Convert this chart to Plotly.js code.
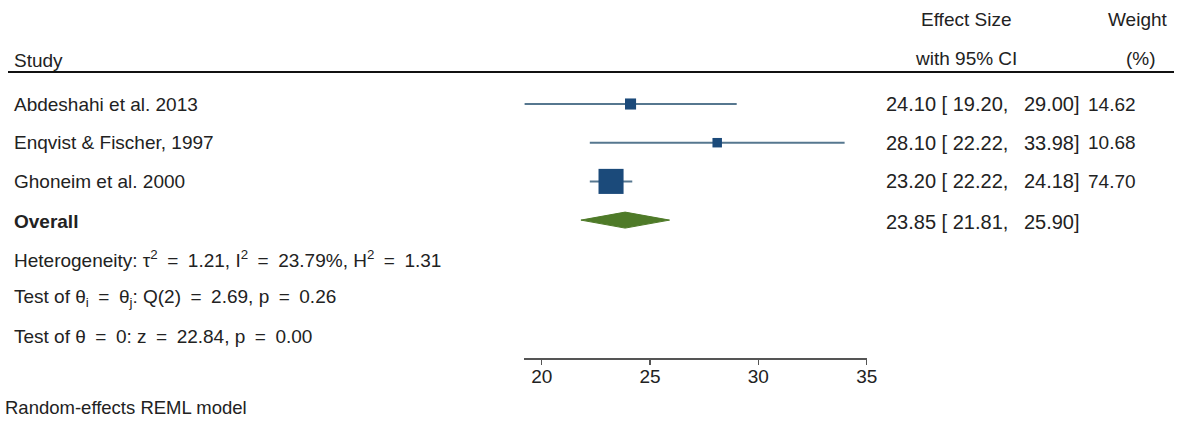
<!DOCTYPE html>
<html>
<head>
<meta charset="utf-8">
<script src="https://cdn.plot.ly/plotly-3.0.1.min.js"></script>
<style>html,body{margin:0;padding:0;background:#fff;}#chart{width:1186px;height:430px;}</style>
</head>
<body>
<div id="chart"></div>
<script>
// ---- data ----
const studies = ["Abdeshahi et al. 2013", "Enqvist & Fischer, 1997", "Ghoneim et al. 2000"];
const effect = [24.10, 28.10, 23.20];
const ciLow = [19.20, 22.22, 22.22];
const ciHigh = [29.00, 33.98, 24.18];
const weight = [14.62, 10.68, 74.70];
const overallLabel = "Overall";
const overallEffect = 23.85;
const overallLow = 21.81;
const overallHigh = 25.90;
const statLines = [
  "Heterogeneity: \u03c4<sup>2</sup> = 1.21, I<sup>2</sup> = 23.79%, H<sup>2</sup> = 1.31",
  "Test of \u03b8<sub>i</sub> = \u03b8<sub>j</sub>: Q(2) = 2.69, p = 0.26",
  "Test of \u03b8 = 0: z = 22.84, p = 0.00"
];
const tickVals = [20, 25, 30, 35];
const modelNote = "Random-effects REML model";

// ---- layout helpers ----
const W = 1186, H = 430;
const pxAt20 = 541.7, pxPerUnit = 21.667;
const axisMin = Math.min(...ciLow), axisMax = Math.max(...tickVals);
const xd0 = (pxAt20 + (axisMin - 20) * pxPerUnit) / W;
const xd1 = (pxAt20 + (axisMax - 20) * pxPerUnit) / W;
const rowTopPx = 104, rowStep = 38.7, headerLinePx = 72, axisPx = 358;
const yTop = (rowTopPx - headerLinePx) / rowStep;
const yBot = -(axisPx - rowTopPx) / rowStep;
const py = p => (H - p) / H;
const px = p => p / W;

const FONT = "Liberation Sans, Arial, Helvetica, sans-serif";
const TXT = "#222";
const FS = 19;
const EN = "\u2002";
const wideEq = s => s.replace(/ = /g, EN + "=" + EN);   // Stata-style spacing round "="

function fmtCI(e, lo, hi) {
  return e.toFixed(2) + " [ " + lo.toFixed(2) + "," + EN + "\u00a0" + hi.toFixed(2) + "]";
}

const traces = [];
studies.forEach((s, i) => {
  traces.push({
    x: [ciLow[i], ciHigh[i]], y: [-i, -i], mode: "lines", type: "scatter",
    line: {color: "#56778f", width: 2}, hoverinfo: "skip", showlegend: false, cliponaxis: false
  });
});
traces.push({
  x: effect, y: studies.map((s, i) => -i), mode: "markers", type: "scatter",
  marker: {symbol: "square", color: "#1b4a7a", opacity: 1,
           size: weight.map(w => 2.9 * Math.sqrt(w)), line: {width: 0}},
  showlegend: false, cliponaxis: false
});
const oy = -studies.length, dh = 8 / rowStep;
traces.push({
  x: [overallLow, overallEffect, overallHigh, overallEffect, overallLow],
  y: [oy, oy + dh, oy, oy - dh, oy],
  mode: "lines", type: "scatter", fill: "toself", fillcolor: "#4e7a28",
  line: {color: "#4e7a28", width: 1}, showlegend: false, cliponaxis: false
});

const ann = [];
const addText = (text, x, y, xanchor, opts = {}) => ann.push(Object.assign({
  text, x, y, xref: "paper", yref: "y", xanchor, yanchor: "middle", showarrow: false,
  font: {family: FONT, size: FS, color: TXT}
}, opts));
const ciFont = {family: FONT, size: 20, color: TXT};

studies.forEach((s, i) => {
  addText(s, px(12), -i, "left");
  addText(fmtCI(effect[i], ciLow[i], ciHigh[i]), px(1082), -i, "right", {font: ciFont});
  addText(weight[i].toFixed(2), px(1138), -i, "right");
});
addText("<b>" + overallLabel + "</b>", px(12), oy - 0.04, "left");
addText(fmtCI(overallEffect, overallLow, overallHigh), px(1082), oy - 0.04, "right", {font: ciFont});
statLines.forEach((t, k) => addText(wideEq(t), px(12), oy - 1 - k, "left"));

const addHead = (text, xp, yp, xanchor, size) => ann.push({
  text, x: px(xp), y: py(yp), xref: "paper", yref: "paper", xanchor, yanchor: "middle",
  showarrow: false, font: {family: FONT, size: size || FS, color: TXT}
});
addHead("Study", 12, 60, "left");
addHead("Effect Size", 966, 19, "center");
addHead("with 95% CI", 966, 59, "center");
addHead("Weight", 1138, 19, "center");
addHead("(%)", 1141, 59, "center");
addHead(modelNote, 3, 407, "left", 18.5);

const layout = {
  width: W, height: H,
  margin: {l: 0, r: 0, t: 0, b: 0, pad: 0},
  paper_bgcolor: "#fff", plot_bgcolor: "#fff",
  showlegend: false,
  xaxis: {
    domain: [xd0, xd1], range: [axisMin, axisMax], tickmode: "array", tickvals: tickVals,
    showgrid: false, zeroline: false, showline: true, linecolor: "#555", linewidth: 1.5,
    ticks: "outside", ticklen: 5, tickcolor: "#555", tickwidth: 1.5, ticklabelstandoff: -4,
    tickfont: {family: FONT, size: FS, color: TXT}, fixedrange: true, anchor: "y"
  },
  yaxis: {
    domain: [py(axisPx), py(headerLinePx)], range: [yBot, yTop],
    visible: false, fixedrange: true
  },
  shapes: [{
    type: "line", xref: "paper", yref: "paper", x0: px(8), x1: px(1174),
    y0: py(headerLinePx), y1: py(headerLinePx), line: {color: "#111", width: 2}
  }],
  annotations: ann
};

Plotly.newPlot("chart", traces, layout, {staticPlot: true, displayModeBar: false});
</script>
</body>
</html>
